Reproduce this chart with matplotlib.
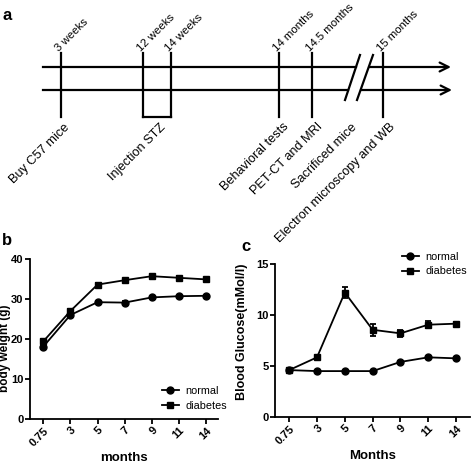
import numpy as np
import matplotlib
matplotlib.use("Agg")
import matplotlib.pyplot as plt

plt.rcParams['font.family'] = ['Liberation Sans', 'DejaVu Sans']

# panel a: timeline (schematic positions along the line)
top_labels = ["3 weeks", "12 weeks", "14 weeks", "14 months", "14.5 months", "15 months"]
top_pos = [61, 143, 171, 279, 312, 383]
bottom_labels = ["Buy C57 mice", "Injection STZ", "Behavioral tests",
                 "PET-CT and MRI", "Sacrificed mice", "Electron microscopy and WB"]
bottom_pos = [64, 160, 283, 317, 351, 389]

# panels b, c
months = ["0.75", "3", "5", "7", "9", "11", "14"]
weight_normal = [18.1, 26.0, 29.2, 29.1, 30.4, 30.7, 30.8]
weight_diabetes = [19.4, 27.0, 33.6, 34.7, 35.7, 35.3, 34.9]
weight_normal_err = [0.5, 0.4, 0.3, 0.3, 0.3, 0.3, 0.3]
weight_diabetes_err = [0.5, 0.5, 0.4, 0.4, 0.4, 0.4, 0.4]

glucose_normal = [4.6, 4.5, 4.5, 4.5, 5.4, 5.85, 5.75]
glucose_diabetes = [4.6, 5.85, 12.2, 8.55, 8.2, 9.05, 9.15]
glucose_normal_err = [0.1, 0.1, 0.1, 0.1, 0.1, 0.1, 0.1]
glucose_diabetes_err = [0.1, 0.15, 0.55, 0.6, 0.35, 0.35, 0.2]

fig = plt.figure(figsize=(4.72, 4.69), dpi=100)

# ---------------- a ----------------
ax = fig.add_axes([0, 0, 1, 1])
ax.set_xlim(0, 472)
ax.set_ylim(469, 0)
ax.axis("off")

lw = 1.6
y_up, y_lo = 67, 90
ax.plot([43, 356], [y_up, y_up], color="k", lw=lw)
ax.annotate("", xy=(451, y_up), xytext=(369, y_up),
            arrowprops=dict(arrowstyle="->", lw=lw, mutation_scale=16, shrinkA=0, shrinkB=0))
ax.plot([43, 348], [y_lo, y_lo], color="k", lw=lw)
ax.annotate("", xy=(452, y_lo), xytext=(361, y_lo),
            arrowprops=dict(arrowstyle="->", lw=lw, mutation_scale=16, shrinkA=0, shrinkB=0))

# break marks
ax.plot([345, 360], [100, 55], color="k", lw=lw)
ax.plot([357, 373], [100, 55], color="k", lw=lw)

for x in top_pos:
    ax.plot([x, x], [53, 117], color="k", lw=lw)
ax.plot([top_pos[1], top_pos[2]], [117, 117], color="k", lw=lw)

for x, lab in zip(top_pos, top_labels):
    ax.text(x - 1, 53, lab, rotation=45, rotation_mode="anchor",
            ha="left", va="bottom", fontsize=8.2)
for x, lab in zip(bottom_pos, bottom_labels):
    ax.text(x, 121, lab, rotation=45, rotation_mode="anchor",
            ha="right", va="top", fontsize=9.2)

fig.text(0.005, 0.967, "a", fontsize=12, fontweight="bold", va="center")
fig.text(0.005, 0.488, "b", fontsize=12, fontweight="bold", va="center")
fig.text(0.512, 0.474, "c", fontsize=12, fontweight="bold", va="center")


def style(a):
    a.spines["top"].set_visible(False)
    a.spines["right"].set_visible(False)
    for s in ("left", "bottom"):
        a.spines[s].set_linewidth(1.3)
    a.tick_params(width=1.3, length=3.6, direction="out", labelsize=8, pad=1)
    a.set_xticks(range(len(months)))
    a.set_xticklabels(months, rotation=45, ha="right", rotation_mode="anchor",
                      fontweight="bold")
    for t in a.get_yticklabels():
        t.set_fontweight("bold")


x = np.arange(len(months))
kw = dict(color="k", lw=1.3, markersize=5, capsize=2.5, elinewidth=1.3, capthick=1.3)
leg_kw = dict(loc="center left", frameon=False, borderpad=0, borderaxespad=0,
              handlelength=1.6, handletextpad=0.6, labelspacing=0.45, fontsize=7.8)

# ---------------- b ----------------
axb = fig.add_axes([30 / 472, 50 / 469, 188 / 472, 160 / 469])
bn = axb.errorbar(x, weight_normal, yerr=weight_normal_err, marker="o", **kw)
bd = axb.errorbar(x, weight_diabetes, yerr=weight_diabetes_err, marker="s", **kw)
axb.set_xlim(-0.49, 6.44)
axb.set_ylim(0, 40)
axb.set_yticks([0, 10, 20, 30, 40])
style(axb)
axb.set_xlabel("months", fontsize=9.5, fontweight="bold", labelpad=3)
axb.set_ylabel("body weight (g)", fontsize=8.5, fontweight="bold")
axb.yaxis.set_label_coords(-0.10, 0.44)
axb.legend([bn[0], bd[0]], ["normal", "diabetes"], bbox_to_anchor=(0.70, 0.13), **leg_kw)

# ---------------- c ----------------
axc = fig.add_axes([275 / 472, 52 / 469, 195 / 472, 153 / 469])
cn = axc.errorbar(x, glucose_normal, yerr=glucose_normal_err, marker="o", **kw)
cd = axc.errorbar(x, glucose_diabetes, yerr=glucose_diabetes_err, marker="s", **kw)
axc.set_xlim(-0.51, 6.5)
axc.set_ylim(0, 15)
axc.set_yticks([0, 5, 10, 15])
style(axc)
axc.set_xlabel("Months", fontsize=9.5, fontweight="bold", labelpad=3)
axc.set_ylabel("Blood Glucose(mMol/l)", fontsize=9, fontweight="bold")
axc.yaxis.set_label_coords(-0.14, 0.56)
axc.legend([cn[0], cd[0]], ["normal", "diabetes"], bbox_to_anchor=(0.65, 1.0), **leg_kw)

fig.savefig("out.png", dpi=100)
